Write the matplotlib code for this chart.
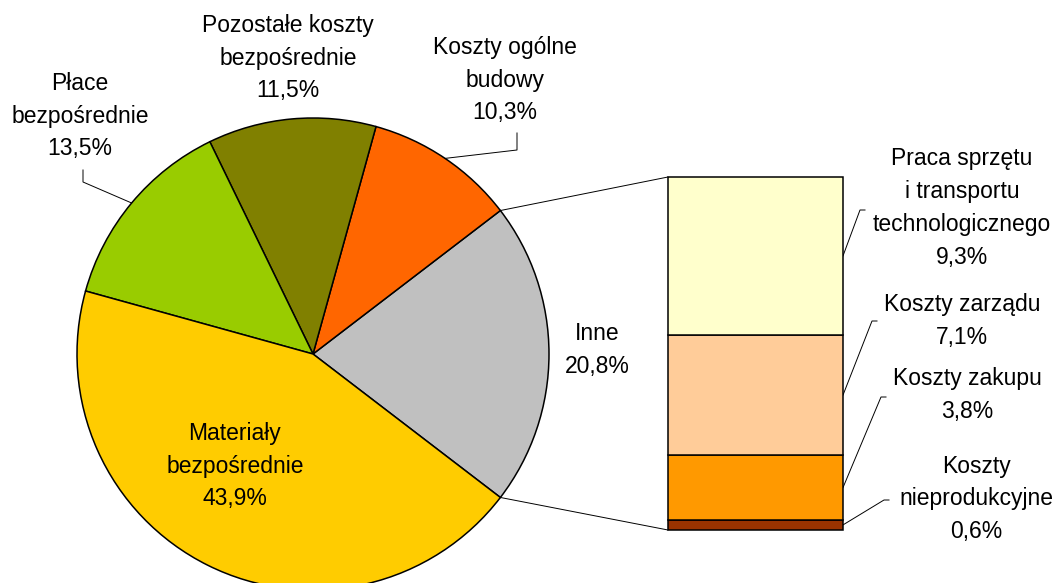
#Bar-of-pie chart: cost structure with breakdown of "Inne"
import numpy as np
import matplotlib
matplotlib.use("Agg")
from matplotlib import pyplot as plt
from matplotlib.patches import ConnectionPatch

plt.rcParams['font.family'] = ['Liberation Sans', 'DejaVu Sans']

#pie slices, counter-clockwise starting with "Inne"
pie_labels = ['Inne', 'Koszty ogólne\nbudowy', 'Pozostałe koszty\nbezpośrednie',
              'Płace\nbezpośrednie', 'Materiały\nbezpośrednie']
pie_values = [20.8, 10.3, 11.5, 13.5, 43.9]
pie_colors = ['#C0C0C0', '#FF6600', '#808000', '#99CC00', '#FFCC00']

#breakdown of "Inne", bottom to top
bar_labels = ['Koszty\nnieprodukcyjne', 'Koszty zakupu', 'Koszty zarządu',
              'Praca sprzętu\ni transportu\ntechnologicznego']
bar_values = [0.6, 3.8, 7.1, 9.3]
bar_colors = ['#993300', '#FF9900', '#FFCC99', '#FFFFCC']

W, H = 1061, 583
FS = 16.5
LS = 1.55


def pct(v):
    return ('%.1f' % v).replace('.', ',') + '%'


def py(y):
    #pixel row (from top) -> data y
    return H - y


fig = plt.figure(figsize=(W/100, H/100), dpi=100)
ax = fig.add_axes([0, 0, 1, 1])

cx, cy, r = 313, py(354), 236
wedges, _ = ax.pie(pie_values, colors=pie_colors, startangle=-pie_values[0]/100*180,
                   counterclock=True, center=(cx, cy), radius=r, frame=True,
                   wedgeprops=dict(edgecolor='black', linewidth=1.1))
ax.set_xlim(0, W)
ax.set_ylim(0, H)
ax.axis('off')

#stacked bar for "Inne"
bax = fig.add_axes([668/W, py(530)/H, 175/W, 353/H])
total = sum(bar_values)
bottoms = np.cumsum([0] + bar_values[:-1])
bax.bar(0, bar_values, bottom=bottoms, width=1, color=bar_colors,
        edgecolor='black', linewidth=1.1, clip_on=False)
bax.set_xlim(-0.5, 0.5)
bax.set_ylim(0, total)
bax.axis('off')

#lines joining the "Inne" slice with the bar
w0 = wedges[0]
for ang, yb in [(w0.theta1, 0), (w0.theta2, total)]:
    a = np.deg2rad(ang)
    con = ConnectionPatch(xyA=(cx + r*np.cos(a), cy + r*np.sin(a)), coordsA=ax.transData,
                          xyB=(-0.5, yb), coordsB=bax.transData,
                          color='black', linewidth=0.7)
    fig.add_artist(con)

#pie labels (x, y in pixels from top)
pie_pos = [(597, 350), (505, 80), (288, 58), (80, 116), (235, 466)]
for lab, v, (x, y) in zip(pie_labels, pie_values, pie_pos):
    ax.text(x, py(y), lab + '\n' + pct(v), ha='center', va='center',
            multialignment='center', fontsize=FS, linespacing=LS)

#leader lines for pie labels: slice index -> knee, end
pie_leaders = {3: ((83, 182), (83, 170)), 1: ((517, 150), (517, 133))}
for i, (knee, end) in pie_leaders.items():
    w = wedges[i]
    a = np.deg2rad((w.theta1 + w.theta2) / 2)
    ax.plot([cx + r*np.cos(a), knee[0], end[0]],
            [cy + r*np.sin(a), py(knee[1]), py(end[1])],
            color='black', linewidth=0.7)

#bar labels and leaders
bar_pos = [(976, 499), (967, 395), (962, 321), (962, 208)]
bar_knee = [(884, 500), (881, 397), (872, 321), (860, 210)]
inv = ax.transData.inverted()
for lab, v, b, (x, y), (kx, ky) in zip(bar_labels, bar_values, bottoms, bar_pos, bar_knee):
    ax.text(x, py(y), lab + '\n' + pct(v), ha='center', va='center',
            multialignment='center', fontsize=FS, linespacing=LS)
    p = inv.transform(bax.transData.transform((0.5, b + v/2)))
    ax.plot([p[0], kx, kx + 5], [p[1], py(ky), py(ky)], color='black', linewidth=0.7)

fig.savefig('out.png', dpi=100)
